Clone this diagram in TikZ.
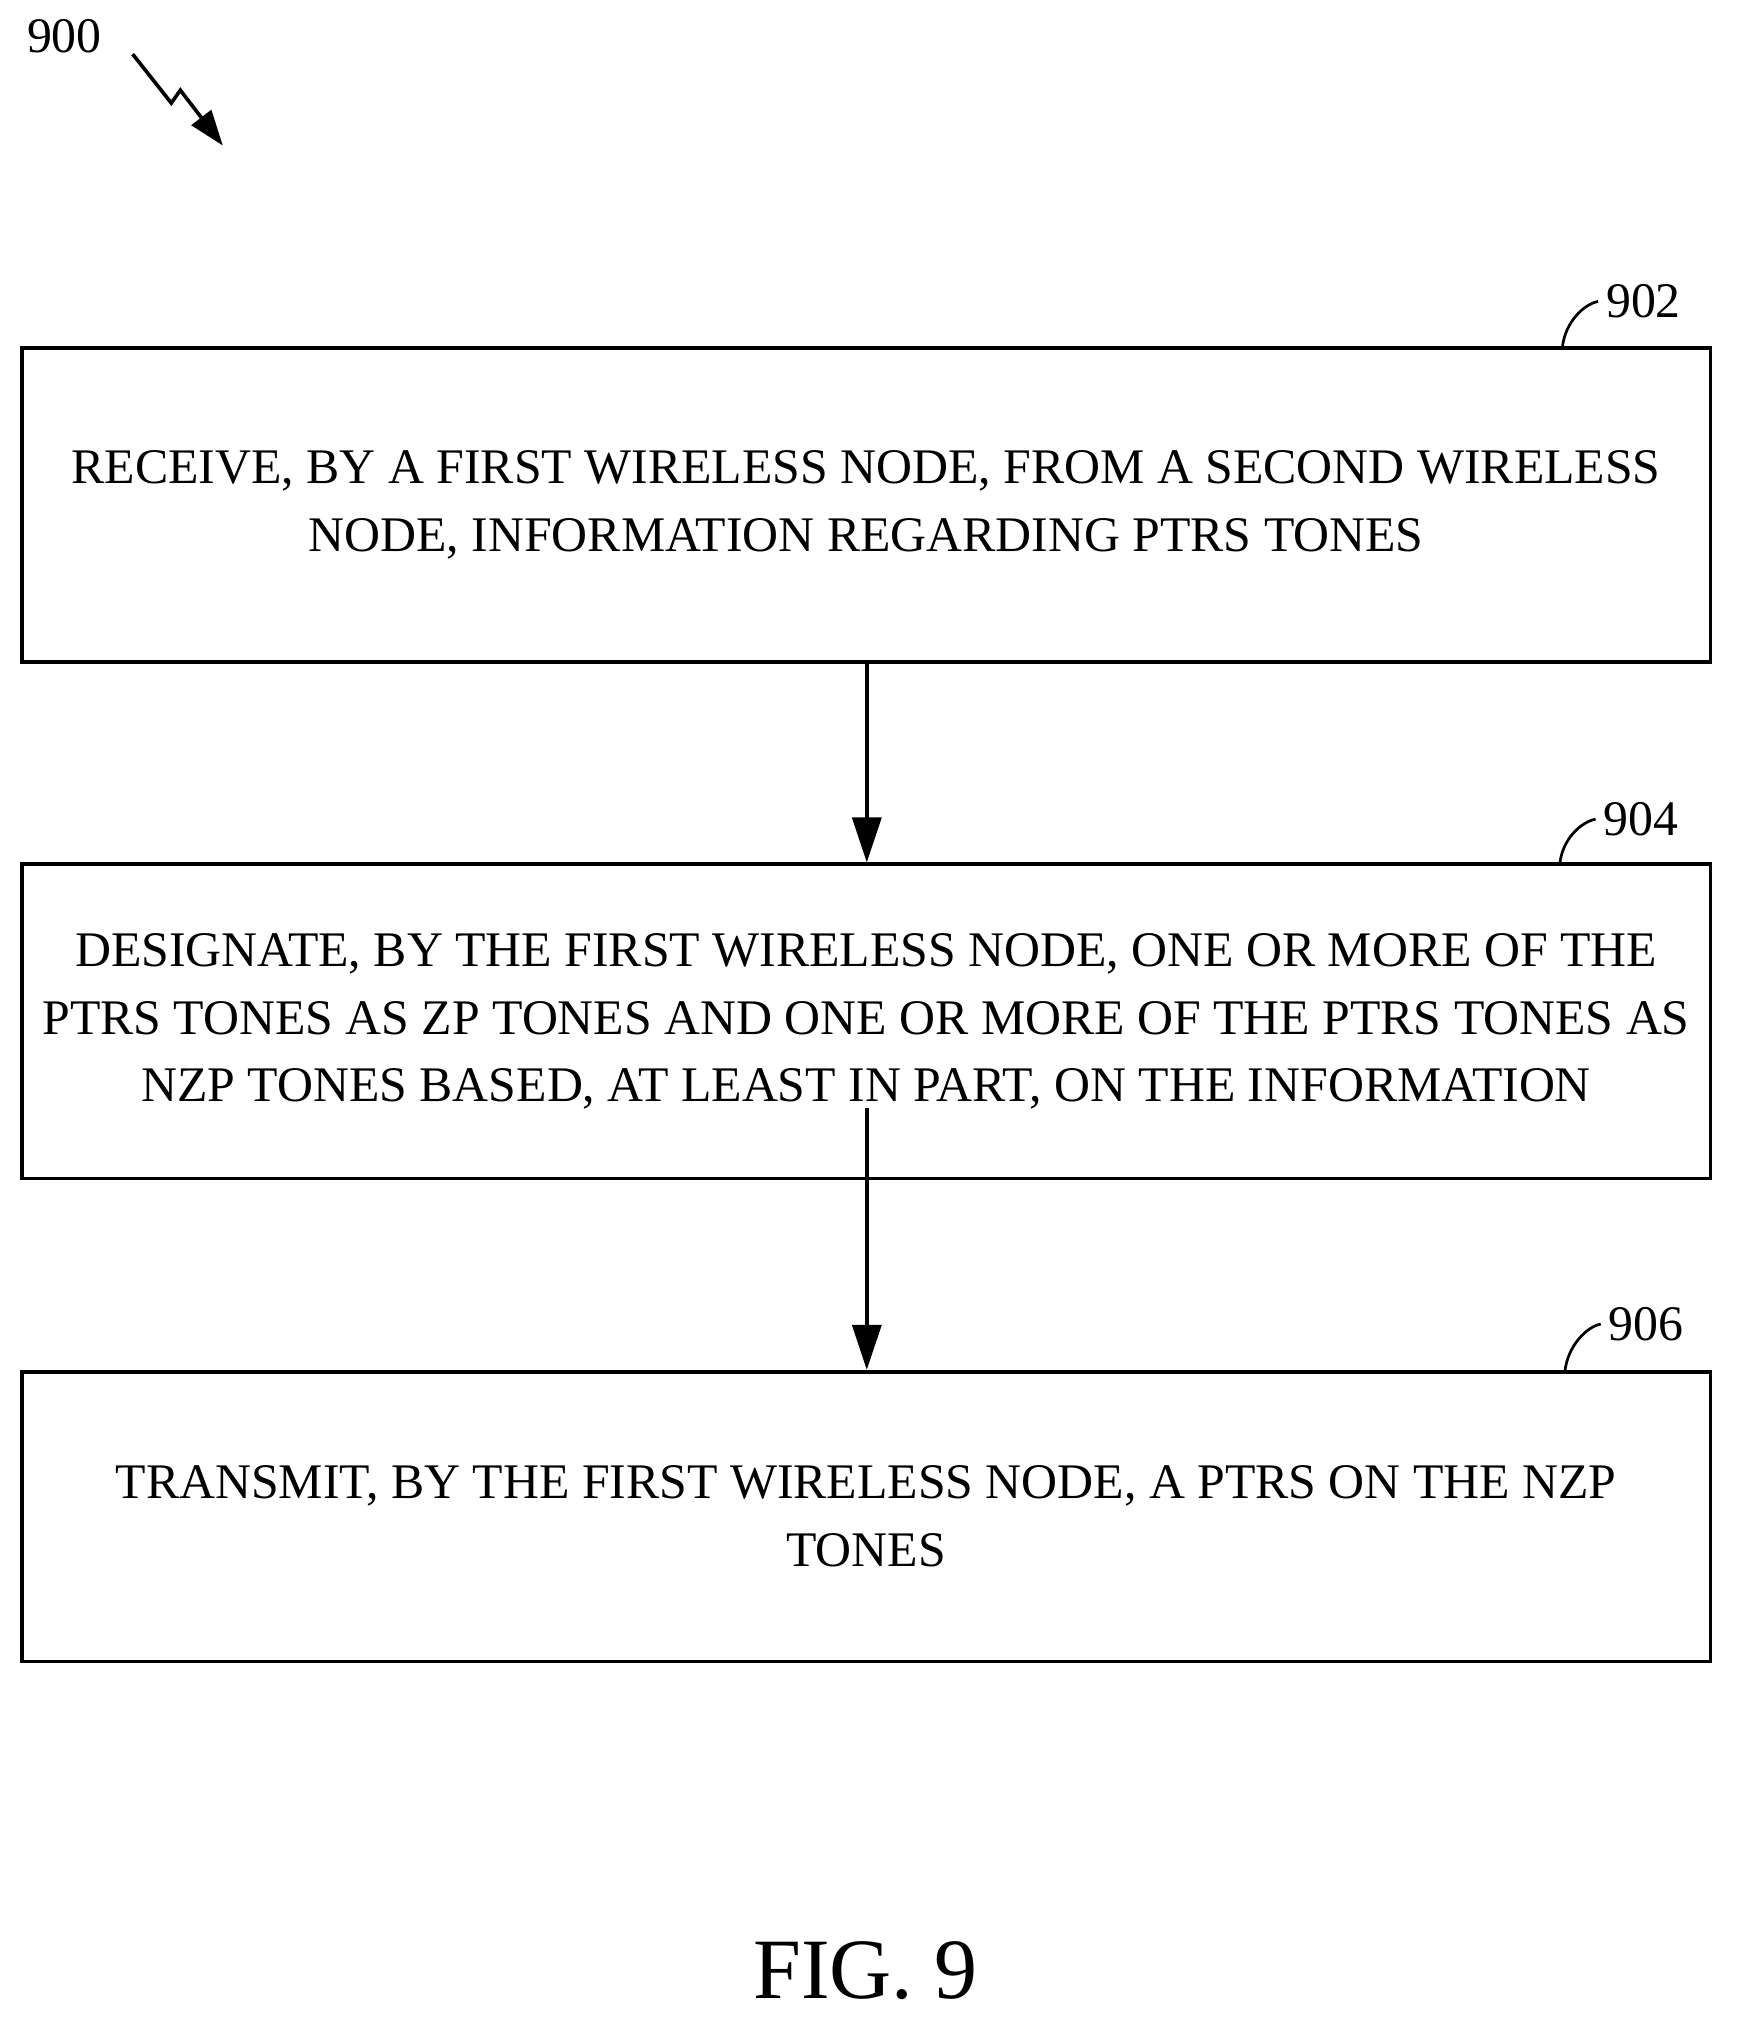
\documentclass[tikz,border=0pt]{standalone}
\usepackage{fontspec}
\setmainfont{Liberation Serif}
\usetikzlibrary{arrows.meta}
\begin{document}
\begin{tikzpicture}[x=0.02cm,y=-0.02cm,
  box/.style={draw,line width=1.6pt,minimum width=1311*0.02cm,align=center,font=\fontsize{22}{30}\selectfont,inner sep=0pt},
  lab/.style={font=\fontsize{22}{26}\selectfont},
  arr/.style={line width=1.6pt,-{Triangle[length=0.7cm,width=0.45cm]}}]
\useasboundingbox (0,0) rectangle (1350,1573);
\node[box,minimum height=244*0.02cm] (b1) at (672.5,392) {RECEIVE, BY A FIRST WIRELESS NODE, FROM A SECOND WIRELESS\\NODE, INFORMATION REGARDING PTRS TONES};
\node[box,minimum height=244*0.02cm] (b2) at (672.5,793) {DESIGNATE, BY THE FIRST WIRELESS NODE, ONE OR MORE OF THE\\PTRS TONES AS ZP TONES AND ONE OR MORE OF THE PTRS TONES AS\\NZP TONES BASED, AT LEAST IN PART, ON THE INFORMATION};
\node[box,minimum height=225*0.02cm] (b3) at (672.5,1177.5) {TRANSMIT, BY THE FIRST WIRELESS NODE, A PTRS ON THE NZP\\TONES};
\draw[arr] (b1.south -| 673,0) -- (b2.north -| 673,0);
\coordinate (s2) at (673,860);
\draw[arr] (s2) -- (b3.north -| 673,0);
\node[lab] (l902) at (1276,234) {902};
\node[lab] (l904) at (1274,636) {904};
\node[lab] (l906) at (1278,1028) {906};
\draw[line width=1.2pt] (1213,270) .. controls (1215,250) and (1230,236) .. (l902.west);
\draw[line width=1.2pt] (1211,671) .. controls (1213,651) and (1228,638) .. (l904.west);
\draw[line width=1.2pt] (1215,1065) .. controls (1217,1045) and (1232,1030) .. (l906.west);
\node[lab] (l900) at (50,28) {900};
\coordinate (z0) at (103,42);
\draw[line width=1.6pt,-{Triangle[length=0.55cm,width=0.38cm]}] (z0) -- (133,80) -- (140,70) -- (173,113);
\node[font=\fontsize{38}{40}\selectfont] (fig) at (672,1530) {FIG. 9};
\end{tikzpicture}
\end{document}
